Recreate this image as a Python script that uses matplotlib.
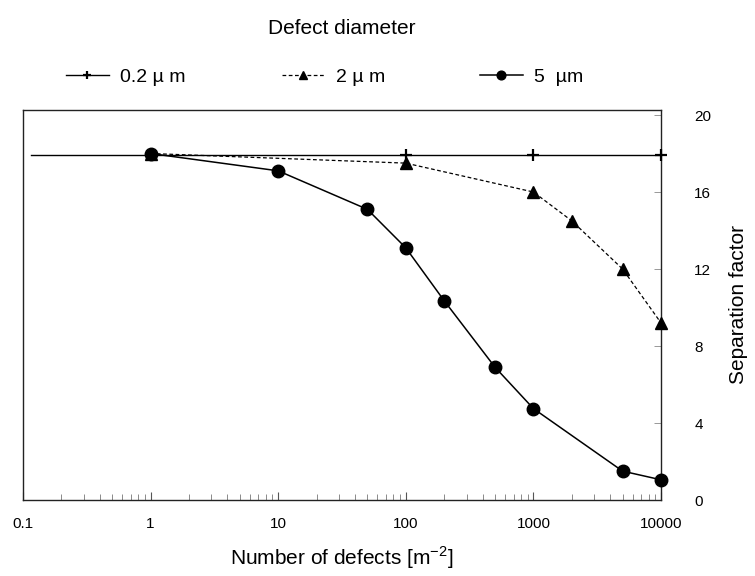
import matplotlib
matplotlib.use("Agg")
import matplotlib.pyplot as plt
from matplotlib.ticker import FixedLocator, LogLocator, NullFormatter

plt.rcParams['font.family'] = ['Liberation Sans', 'DejaVu Sans']

# Data
x_02 = [0.115, 1, 100, 1000, 10000]
y_02 = [17.9, 17.9, 17.9, 17.9, 17.9]

x_2 = [1, 100, 1000, 2000, 5000, 10000]
y_2 = [18.0, 17.5, 16.0, 14.5, 12.0, 9.2]

x_5 = [1, 10, 50, 100, 200, 500, 1000, 5000, 10000]
y_5 = [18.0, 17.1, 15.1, 13.1, 10.35, 6.9, 4.75, 1.5, 1.05]

labels = ['0.2 \u00b5 m', '2 \u00b5 m', '5  \u00b5m']
x_ticks = [0.1, 1, 10, 100, 1000, 10000]
x_ticklabels = ['0.1', '1', '10', '100', '1000', '10000']
y_ticks = [0, 4, 8, 12, 16, 20]

fig = plt.figure(figsize=(7.55, 5.76), dpi=100)
ax = fig.add_axes([23/755, 1 - 500/576, (661 - 23)/755, (500 - 110)/576])

l1, = ax.plot(x_02, y_02, color='black', lw=1.0, ls='-', marker='+',
              markersize=9, markeredgewidth=1.6, markevery=[1, 2, 3, 4],
              label=labels[0], zorder=3, clip_on=False)
l2, = ax.plot(x_2, y_2, color='black', lw=0.9, ls=(0, (3, 2)), marker='^',
              markersize=8, label=labels[1], zorder=4, clip_on=False)
l3, = ax.plot(x_5, y_5, color='black', lw=1.1, ls='-', marker='o',
              markersize=9, label=labels[2], zorder=5, clip_on=False)

ax.set_xscale('log')
ax.set_xlim(0.1, 10000)
ax.set_ylim(0, 20.26)

ax.xaxis.set_major_locator(FixedLocator(x_ticks))
ax.set_xticklabels(x_ticklabels)
ax.xaxis.set_minor_locator(LogLocator(base=10, subs=range(2, 10), numticks=20))
ax.xaxis.set_minor_formatter(NullFormatter())
ax.tick_params(axis='x', which='major', direction='in', length=6, width=0.8,
               labelsize=11, pad=12, color='#555555')
ax.tick_params(axis='x', which='minor', direction='in', length=4, width=0.6,
               color='#777777')

ax.yaxis.tick_right()
ax.yaxis.set_label_position('right')
ax.set_yticks(y_ticks)
ax.tick_params(axis='y', which='major', direction='in', length=5, width=0.6,
               labelsize=11, pad=24, color='#888888')

for s in ax.spines.values():
    s.set_linewidth(1.0)
    s.set_color('#222222')

ax.set_xlabel('Number of defects [m$^{\\mathregular{-2}}$]', fontsize=15,
              labelpad=10)
ax.set_ylabel('Separation factor', fontsize=15, labelpad=13)

fig.text(342/755, 1 - 28/576, 'Defect diameter', ha='center', va='center',
         fontsize=15)

# legend entries positioned individually
starts = [66, 282, 480]
for h, lab, xs in zip([l1, l2, l3], labels, starts):
    fig.legend(handles=[h], labels=[lab], loc='center left',
               bbox_to_anchor=(xs/755, 1 - 77/576), frameon=False,
               fontsize=14, handlelength=2.2, handletextpad=0.6,
               borderpad=0, borderaxespad=0, markerscale=0.7)

fig.savefig('out.png', dpi=100)
